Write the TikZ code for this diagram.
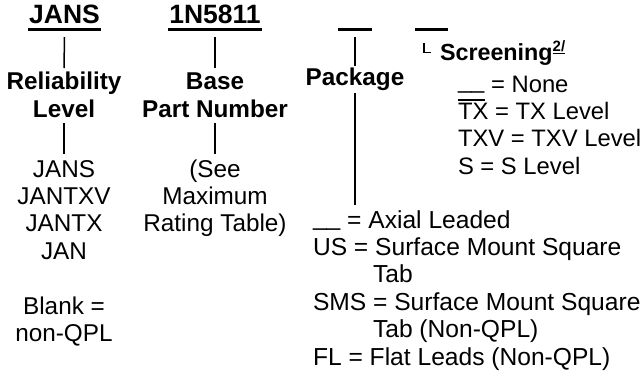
\documentclass[tikz,border=0pt]{standalone}
\usepackage{fontspec}
\setmainfont{Liberation Sans}
\begin{document}
\begin{tikzpicture}[x=1pt,y=-1pt,
  every node/.style={inner sep=0pt, outer sep=0pt},
  bodyfont/.style={font=\fontsize{24.3}{27.4}\selectfont},
  title/.style={font=\fontsize{26.5}{30}\selectfont\bfseries, anchor=base},
  lbl/.style={font=\fontsize{24.3}{27.4}\selectfont\bfseries, anchor=base},
  txt/.style={bodyfont, anchor=base},
  txtl/.style={bodyfont, anchor=base west},
  pkgl/.style={font=\fontsize{24.6}{27.4}\selectfont, anchor=base west},
  scrl/.style={font=\fontsize{23.8}{27.4}\selectfont, anchor=base west},
  conn/.style={line width=1.5pt},
  bar/.style={line width=3.5pt},
  thin/.style={line width=1.2pt}]
\useasboundingbox (0,0) rectangle (642,373);

% titles
\node[title] (jansT) at (64.5,23) {JANS};
\node[title] (pnT) at (215,23) {1N5811};
\coordinate (pkgT) at (355,29.3);
\coordinate (scrT) at (431.5,29.3);
\draw[bar] ([xshift=-1pt,yshift=-6.3pt]jansT.base west) -- ([xshift=1pt,yshift=-6.3pt]jansT.base east);
\draw[bar] ([xshift=-1pt,yshift=-6.3pt]pnT.base west) -- ([xshift=1pt,yshift=-6.3pt]pnT.base east);
\draw[bar] ([xshift=-17pt]pkgT) -- ([xshift=17pt]pkgT);
\draw[bar] ([xshift=-16.5pt]scrT) -- ([xshift=16.5pt]scrT);

% reliability column
\node[lbl] (rel) at (64,89.5) {Reliability};
\node[lbl] (lev) at (64,117) {Level};
\node[txt] (j1) at (64,177) {JANS};
\node[txt] (j2) at (64,204.4) {JANTXV};
\node[txt] (j3) at (64,231.8) {JANTX};
\node[txt] (j4) at (64,259.2) {JAN};
\node[txt] (b1) at (64,314) {Blank =};
\node[txt] (b2) at (64,341.4) {non-QPL};
\draw[conn] ([yshift=-14pt]jansT.base) -- ([yshift=21.5pt]rel.base);
\draw[conn] ([yshift=-6pt]lev.base) -- ([yshift=23pt]j1.base);

% base part number column
\node[lbl] (base) at (215,89.5) {Base};
\node[lbl] (pn) at (215,117) {Part Number};
\node[txt] (s1) at (215,177) {(See};
\node[txt] (s2) at (215,204.4) {Maximum};
\node[txt] (s3) at (215,231.8) {Rating Table)};
\draw[conn] ([yshift=-14pt]pnT.base) -- ([yshift=21.5pt]base.base);
\draw[conn] ([yshift=-6pt]pn.base) -- ([yshift=23pt]s1.base);

% package column
\node[lbl] (pkg) at (355,85) {Package};
\node[pkgl] (a1) at (313,228) {\raisebox{2.5pt}{\_\_} = Axial Leaded};
\node[pkgl] (a2) at (313,255.4) {US = Surface Mount Square};
\node[pkgl] (a3) at (373,282.8) {Tab};
\node[pkgl] (a4) at (313,310.2) {SMS = Surface Mount Square};
\node[pkgl] (a5) at (373,337.6) {Tab (Non-QPL)};
\node[pkgl] (a6) at (313,365) {FL = Flat Leads (Non-QPL)};
\path ([yshift=23pt]a1.base) coordinate (a1top);
\draw[conn] ([yshift=-7.7pt]pkgT) -- ([yshift=19.5pt]pkg.base);
\draw[conn] ([yshift=-8pt]pkg.base) -- (pkg.base |- a1top);

% screening column
\node[lbl, anchor=base west, font=\fontsize{23.3}{27.4}\selectfont\bfseries] (scr) at (440,60.5)
  {Screening\raisebox{9pt}{\fontsize{15}{17}\selectfont\underline{2/}}};
\draw[thin] ([xshift=-16pt,yshift=18pt]scr.base west) |- ([xshift=-9pt,yshift=8pt]scr.base west);
\node[scrl] (t1) at (458,92) {\raisebox{4pt}{\_\_} = None};
\node[scrl] (t2) at (458,119.4) {TX = TX Level};
\node[scrl] (t3) at (458,146.8) {TXV = TXV Level};
\node[scrl] (t4) at (458,174.2) {S = S Level};
\draw[thin] ([yshift=19.5pt]t2.base west) -- ++(26.5,0);
\end{tikzpicture}
\end{document}
